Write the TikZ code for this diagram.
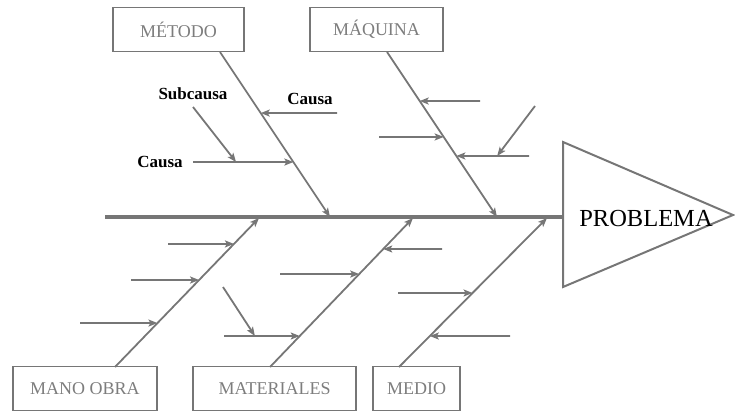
\documentclass[tikz,border=0pt]{standalone}
\usepackage{fontspec}
\setmainfont{Liberation Serif}
\usetikzlibrary{arrows.meta}
\definecolor{bonegray}{RGB}{118,118,118}
\definecolor{labelgray}{RGB}{125,125,125}

\begin{document}
\begin{tikzpicture}[->,>={Stealth[length=9pt,width=7pt,inset=2pt]},x=1pt,y=-1pt,
                    line width=1.8pt,color=bonegray,
                    box node/.style={rectangle,draw,line width=1.1pt,text=labelgray,inner sep=0pt,
                                     minimum height=44pt,font=\fontsize{18}{20}\selectfont},
                    tag node/.style={text=black,font=\fontsize{17}{19}\selectfont\bfseries}]
  \useasboundingbox (0,0) rectangle (735,413);

  \node[box node,minimum width=131pt] (metodo) at (178.5,29.5) {MÉTODO};
  \node[box node,minimum width=133pt] (maquina) at (376.5,29.5) {MÁQUINA};
  \node[box node,minimum width=144pt] (manoobra) at (85,388.5) {MANO OBRA};
  \node[box node,minimum width=163pt] (materiales) at (274.5,388.5) {MATERIALES};
  \node[box node,minimum width=87pt] (medio) at (416.5,388.5) {MEDIO};

  % spine and head
  \coordinate (sp0) at (105,217);
  \coordinate (sp1) at (563,217);
  \coordinate (ht) at (563,142);
  \coordinate (ha) at (733,215);
  \coordinate (hb) at (563,287);
  \draw[-,line width=3.5pt] (sp0) -- (sp1);
  \draw[-,line width=2pt] (ht) -- (ha) -- (hb) -- cycle;
  \node[text=black,font=\fontsize{24.5}{26}\selectfont] (problema) at (646,219) {PROBLEMA};

  % bones
  \coordinate (mt) at (220,52);  \coordinate (ms) at (330,217);
  \coordinate (qt) at (387,52);  \coordinate (qs) at (497,217);
  \coordinate (at) at (115,367); \coordinate (as) at (259,218);
  \coordinate (tt) at (270,367); \coordinate (ts) at (413,218);
  \coordinate (dt) at (399,367); \coordinate (ds) at (547,218);
  \path (mt) edge (ms) (qt) edge (qs) (at) edge (as) (tt) edge (ts) (dt) edge (ds);

  % points on the bones
  \path[-] (mt) -- (ms) coordinate[pos=0.370] (m1e) coordinate[pos=0.667] (m2e);
  \path[-] (qt) -- (qs) coordinate[pos=0.297] (q1e) coordinate[pos=0.515] (q2e) coordinate[pos=0.630] (q3e);
  \path[-] (at) -- (as) coordinate[pos=0.826] (a1e) coordinate[pos=0.584] (a2e) coordinate[pos=0.295] (a3e);
  \path[-] (tt) -- (ts) coordinate[pos=0.792] (t1e) coordinate[pos=0.624] (t2e) coordinate[pos=0.208] (t3e);
  \path[-] (dt) -- (ds) coordinate[pos=0.497] (d1e) coordinate[pos=0.208] (d2e);

  % causes
  \coordinate (m1) at (337,113); \coordinate (m2) at (193,162);
  \coordinate (q1) at (480,101); \coordinate (q2) at (379,137); \coordinate (q3) at (529,156);
  \coordinate (a1) at (168,244); \coordinate (a2) at (131,280); \coordinate (a3) at (80,323);
  \coordinate (t1) at (442,249); \coordinate (t2) at (280,274); \coordinate (t3) at (224,336);
  \coordinate (d1) at (398,293); \coordinate (d2) at (510,336);
  \path (m1) edge (m1e) (m2) edge (m2e)
        (q1) edge (q1e) (q2) edge (q2e) (q3) edge (q3e)
        (a1) edge (a1e) (a2) edge (a2e) (a3) edge (a3e)
        (t1) edge (t1e) (t2) edge (t2e) (t3) edge (t3e)
        (d1) edge (d1e) (d2) edge (d2e);

  % subcauses
  \path[-] (m2) -- (m2e) coordinate[pos=0.429] (m2s);
  \path[-] (q3) -- (q3e) coordinate[pos=0.438] (q3s);
  \path[-] (t3) -- (t3e) coordinate[pos=0.408] (t3s);
  \coordinate (ms1) at (193,107); \coordinate (qs1) at (535,106); \coordinate (ts1) at (223,287);
  \path (ms1) edge (m2s) (qs1) edge (q3s) (ts1) edge (t3s);

  \node[tag node] (subcausa) at (193,94) {Subcausa};
  \node[tag node] (causa1) at (310,99) {Causa};
  \node[tag node] (causa2) at (160,162) {Causa};
\end{tikzpicture}
\end{document}
